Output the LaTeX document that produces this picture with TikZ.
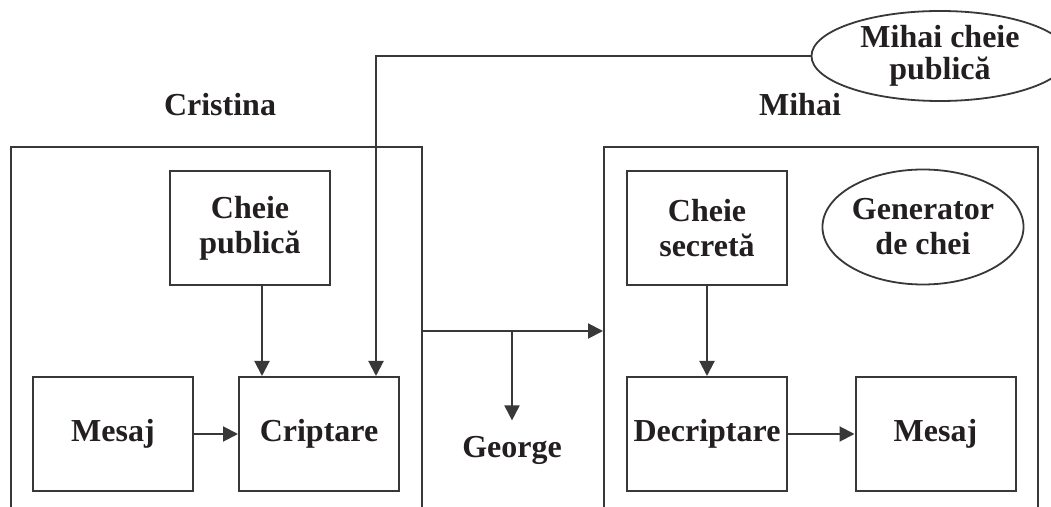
\documentclass[tikz,border=0pt]{standalone}
\usepackage{fontspec}
\setmainfont{Liberation Serif}
\usetikzlibrary{arrows.meta,shapes.geometric}
\definecolor{ink}{HTML}{231F20}
\definecolor{rule}{HTML}{383838}
\tikzset{
  txt/.style={font=\fontsize{16pt}{17.5pt}\selectfont\bfseries, text=ink, align=center},
  blk/.style={txt, draw=rule, line width=1pt, minimum width=80pt, minimum height=57pt, inner sep=0pt},
  oval/.style={txt, draw=rule, line width=0.9pt, ellipse, inner sep=0pt},
  frame/.style={draw=rule, line width=1pt, inner sep=0pt},
  arr/.style={draw=rule, line width=1pt, -{Triangle[length=7.5pt,width=7.5pt]}}
}
\begin{document}
\begin{tikzpicture}[x=0.5pt,y=-0.5pt]
\useasboundingbox (0,0) rectangle (1051,507);
\clip (0,0) rectangle (1051,507);
\fill[white] (0,0) rectangle (1051,507);

% the two parties, open at the bottom
\node[frame, minimum width=205.5pt, minimum height=196.5pt] (cristina) at (216.5,343.5) {};
\node[frame, minimum width=217pt, minimum height=196.5pt] (mihai) at (821,343.5) {};
\node[txt, anchor=base] (lcristina) at (220,116) {Cristina};
\node[txt, anchor=base] (lmihai) at (800,116) {Mihai};

% sender side
\node[blk] (pub) at (250,228) {Cheie\\publică};
\node[blk] (msgA) at (113,434) {Mesaj};
\node[blk] (enc) at (319,434) {Criptare};

% receiver side
\node[blk] (sec) at (707,228) {Cheie\\secretă};
\node[blk] (dec) at (707,434) {Decriptare};
\node[blk] (msgB) at (935.5,434) {Mesaj};
\node[oval, minimum width=92pt, minimum height=57.5pt] (gen) at (923,227) {Generator\\de chei};

% published key
\node[oval, minimum width=128.5pt, minimum height=45pt, font=\fontsize{16pt}{16pt}\selectfont\bfseries] (mpk) at (940,56) {Mihai cheie\\publică};

% eavesdropper
\node[txt, anchor=base, inner sep=0pt] (george) at (512,458) {George};

% helper points
\coordinate (pa) at (262,0);
\coordinate (ka) at (376,56);
\coordinate (ch) at (0,331);
\coordinate (br) at (512,331);

% connectors
\draw[arr] (pub.south -| pa) -- (enc.north -| pa);
\draw[arr] (mpk.west) -- (ka) -- (enc.north -| ka);
\draw[arr] (msgA.east) -- (enc.west);
\draw[arr] (sec.south) -- (dec.north);
\draw[arr] (dec.east) -- (msgB.west);
\draw[arr] (cristina.east |- ch) -- (mihai.west |- ch);
\draw[arr] (br) -- ([yshift=8pt]george.north);
\end{tikzpicture}
\end{document}
